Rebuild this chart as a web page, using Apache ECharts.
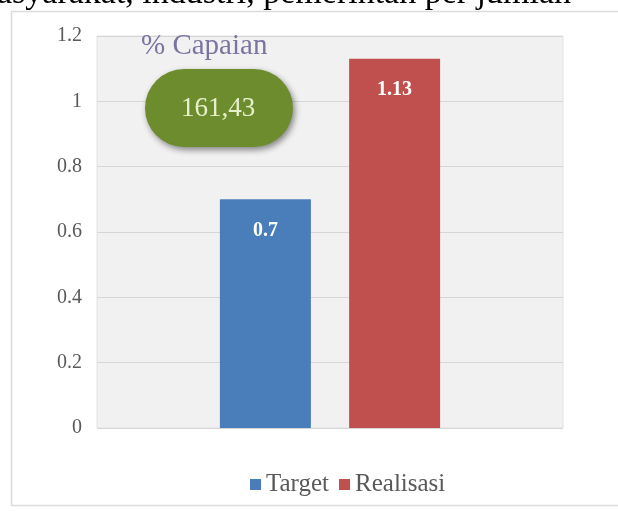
<!DOCTYPE html>
<html>
<head>
<meta charset="utf-8">
<script src="https://cdn.jsdelivr.net/npm/echarts@6/dist/echarts.min.js"></script>
<style>
html,body{margin:0;padding:0;background:#fff;}
#chart{width:618px;height:513px;}
</style>
</head>
<body>
<div id="chart"></div>
<script>
var categories = ['Capaian'];
var seriesNames = ['Target', 'Realisasi'];
var targetValues = [0.7];
var realisasiValues = [1.13];
var capaianLabel = '% Capaian';
var capaianValue = '161,43';
var headerText = 'asyarakat, industri, pemerintah per jumlah';

var serif = '"Liberation Serif", serif';
var chart = echarts.init(document.getElementById('chart'));
chart.setOption({
  backgroundColor: '#ffffff',
  animation: false,
  grid: {
    left: 97, right: 55, top: 36, bottom: 85,
    show: true, backgroundColor: '#f1f1f1', borderColor: '#e2e2e2', borderWidth: 1
  },
  legend: {
    data: seriesNames,
    left: 245, top: 467,
    icon: 'rect', itemWidth: 11, itemHeight: 11, itemGap: 10,
    textStyle: { fontFamily: serif, fontSize: 25, color: '#595959', padding: [0, 0, 0, 0] }
  },
  xAxis: {
    type: 'category', data: categories,
    axisLine: { show: false }, axisTick: { show: false }, axisLabel: { show: false }
  },
  yAxis: {
    type: 'value', min: 0, max: 1.2, interval: 0.2,
    axisLine: { show: false }, axisTick: { show: false },
    axisLabel: { fontFamily: serif, fontSize: 20, color: '#595959', margin: 15 },
    splitLine: { lineStyle: { color: '#d6d6d6', width: 1 } }
  },
  series: [
    {
      name: seriesNames[0], type: 'bar', data: targetValues,
      barWidth: 91, barGap: '42%',
      itemStyle: { color: '#4a7ebb' },
      label: { show: true, position: 'insideTop', distance: 21, fontFamily: serif, fontSize: 20, fontWeight: 'bold', color: '#ffffff' }
    },
    {
      name: seriesNames[1], type: 'bar', data: realisasiValues,
      barWidth: 91,
      itemStyle: { color: '#c0504d' },
      label: { show: true, position: 'insideTop', distance: 21, fontFamily: serif, fontSize: 20, fontWeight: 'bold', color: '#ffffff' }
    }
  ],
  graphic: [
    {
      type: 'rect', silent: true, z: -1,
      shape: { x: 11.5, y: 11.5, width: 640, height: 494 },
      style: { fill: 'none', stroke: '#dcdcdc', lineWidth: 1.5 }
    },
    {
      type: 'text', x: -3, y: 11, silent: true,
      style: { text: headerText, fontFamily: serif, fontSize: 34, fill: '#000000', verticalAlign: 'bottom' }
    },
    {
      type: 'text', x: 141, y: 46, z: 100,
      style: { text: capaianLabel, fontFamily: serif, fontSize: 29, fill: '#7c74a0', verticalAlign: 'middle' }
    },
    {
      type: 'rect', z: 100,
      shape: { x: 145, y: 69, width: 148, height: 78, r: 39 },
      style: { fill: '#6c8c2e', shadowColor: 'rgba(0,0,0,0.45)', shadowBlur: 6, shadowOffsetX: 2, shadowOffsetY: 3 }
    },
    {
      type: 'text', z: 101, x: 218, y: 109,
      style: { text: capaianValue, fontFamily: serif, fontSize: 27, fill: '#e6f0cc', align: 'center', verticalAlign: 'middle' }
    }
  ]
});
</script>
</body>
</html>
